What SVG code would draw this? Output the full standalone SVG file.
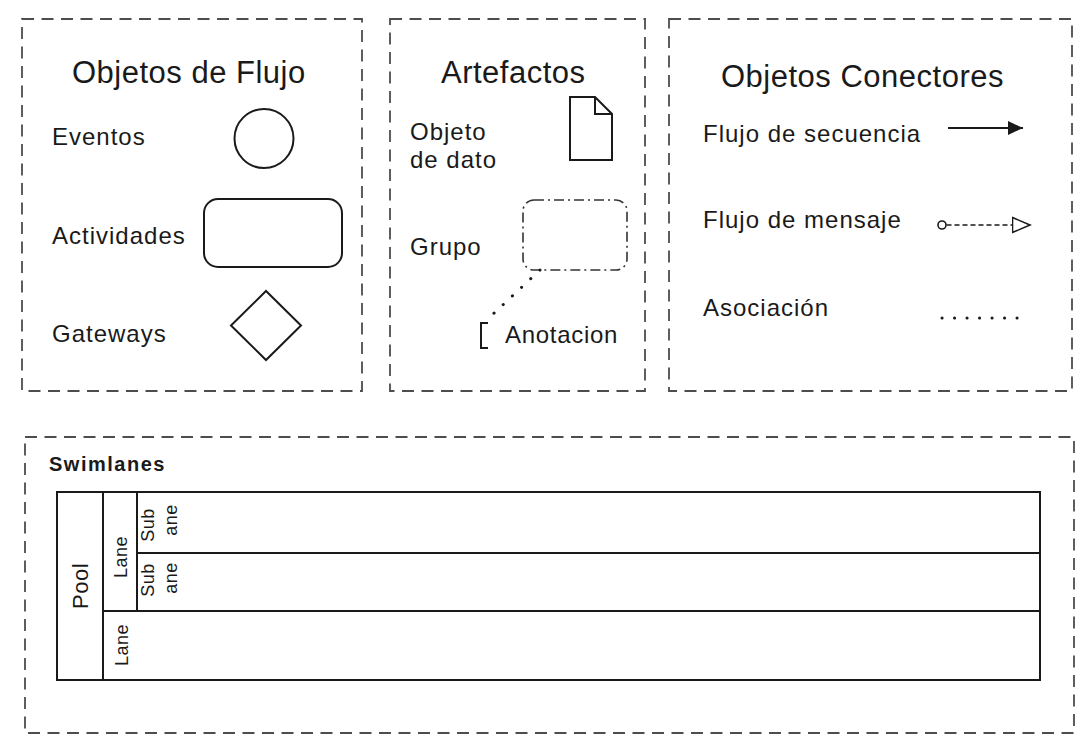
<svg xmlns="http://www.w3.org/2000/svg" width="1092" height="749" viewBox="0 0 1092 749">
<style>
  .panel{fill:none;stroke:#4d4d4d;stroke-width:1.8;stroke-dasharray:12 7.5}
  .shape{fill:#fff;stroke:#1a1a1a;stroke-width:2}
  .line{fill:none;stroke:#1a1a1a;stroke-width:2}
  .title{font-family:"Liberation Sans",Arial,sans-serif;font-size:31px;letter-spacing:0.5px;fill:#1a1a1a}
  .lbl{font-family:"Liberation Sans",Arial,sans-serif;font-size:24px;letter-spacing:1px;fill:#1a1a1a}
  .rot{font-family:"Liberation Sans",Arial,sans-serif;font-size:18px;letter-spacing:0.5px;fill:#1a1a1a;text-anchor:middle}
</style>
<defs>
  <marker id="seqArrow" markerWidth="15" markerHeight="14" refX="15" refY="7" orient="auto" markerUnits="userSpaceOnUse">
    <path d="M0,0 L15,7 L0,14 Z" fill="#1a1a1a"/>
  </marker>
  <marker id="msgArrow" markerWidth="20" markerHeight="18" refX="18.5" refY="9" orient="auto" markerUnits="userSpaceOnUse">
    <path d="M1,1.5 L18.5,9 L1,16.5 Z" fill="#fff" stroke="#1a1a1a" stroke-width="1.6"/>
  </marker>
</defs>
<rect width="1092" height="749" fill="#fff"/>

<g id="panel-flujo">
  <rect class="panel" x="22" y="19" width="340" height="372"/>
  <text class="title" x="72" y="83">Objetos de Flujo</text>
  <text class="lbl" x="52" y="145">Eventos</text>
  <text class="lbl" x="52" y="244">Actividades</text>
  <text class="lbl" x="52" y="342">Gateways</text>
</g>
<g id="node-evento"><circle class="shape" cx="264" cy="138.5" r="29.5"/></g>
<g id="node-actividad"><rect class="shape" x="204" y="199" width="138" height="68" rx="14"/></g>
<g id="node-gateway"><polygon class="shape" points="231,325.5 266,291 301,325.5 266,360"/></g>

<g id="panel-artefactos">
  <rect class="panel" x="390" y="19" width="255" height="372"/>
  <text class="title" x="441" y="83">Artefactos</text>
  <text class="lbl" x="410" y="140">Objeto</text>
  <text class="lbl" x="410" y="168">de dato</text>
  <text class="lbl" x="410" y="255">Grupo</text>
</g>
<g id="node-dato">
  <path class="shape" d="M570,97 L595,97 L612,114 L612,160 L570,160 Z"/>
  <path class="line" d="M595,97 L595,114 L612,114"/>
</g>
<g id="node-grupo">
  <rect x="523" y="200" width="104" height="70" rx="11" fill="none" stroke="#333" stroke-width="1.6" stroke-dasharray="10 4 2 4"/>
</g>
<g id="node-anotacion">
  <path class="line" d="M488,323 L481,323 L481,348 L488,348"/>
  <text class="lbl" x="505" y="343" style="letter-spacing:0.7px">Anotacion</text>
</g>

<g id="panel-conectores">
  <rect class="panel" x="669" y="19" width="403" height="372"/>
  <text class="title" x="721" y="87">Objetos Conectores</text>
  <text class="lbl" x="703" y="142">Flujo de secuencia</text>
  <text class="lbl" x="703" y="228">Flujo de mensaje</text>
  <text class="lbl" x="703" y="316">Asociación</text>
</g>

<g id="connectors">
  <line x1="540" y1="270" x2="491" y2="316" stroke="#1a1a1a" stroke-width="3" stroke-linecap="round" stroke-dasharray="0.1 12.5"/>
  <line x1="948" y1="128" x2="1023" y2="128" class="line" marker-end="url(#seqArrow)"/>
  <line x1="946.5" y1="225" x2="1030" y2="225" stroke="#1a1a1a" stroke-width="1.6" stroke-dasharray="5 3" marker-end="url(#msgArrow)"/>
  <circle cx="942" cy="225" r="4" fill="#fff" stroke="#1a1a1a" stroke-width="1.6"/>
  <line x1="942" y1="318" x2="1029" y2="318" stroke="#1a1a1a" stroke-width="3" stroke-linecap="round" stroke-dasharray="0.1 12.4"/>
</g>

<g id="panel-swimlanes">
  <rect class="panel" x="25" y="437" width="1049" height="296"/>
  <text x="49" y="471" style="font-family:'Liberation Sans',Arial,sans-serif;font-size:20px;font-weight:bold;letter-spacing:1.5px;fill:#1a1a1a">Swimlanes</text>
</g>
<g id="node-pool">
  <rect class="shape" x="57" y="492" width="983" height="188"/>
  <line class="line" x1="103" y1="492" x2="103" y2="680"/>
  <text class="rot" transform="translate(88,586) rotate(-90)" style="font-size:22px">Pool</text>
</g>
<g id="node-lane1">
  <line class="line" x1="137" y1="492" x2="137" y2="611"/>
  <line class="line" x1="103" y1="611" x2="1040" y2="611"/>
  <text class="rot" transform="translate(127,557) rotate(-90)">Lane</text>
</g>
<g id="node-sublane1">
  <text class="rot" transform="translate(154,525) rotate(-90)">Sub</text>
  <text class="rot" transform="translate(177,520) rotate(-90)">ane</text>
</g>
<g id="node-sublane2">
  <line class="line" x1="137" y1="553" x2="1040" y2="553"/>
  <text class="rot" transform="translate(154,580) rotate(-90)">Sub</text>
  <text class="rot" transform="translate(177,578) rotate(-90)">ane</text>
</g>
<g id="node-lane2">
  <text class="rot" transform="translate(128,645) rotate(-90)">Lane</text>
</g>
</svg>
